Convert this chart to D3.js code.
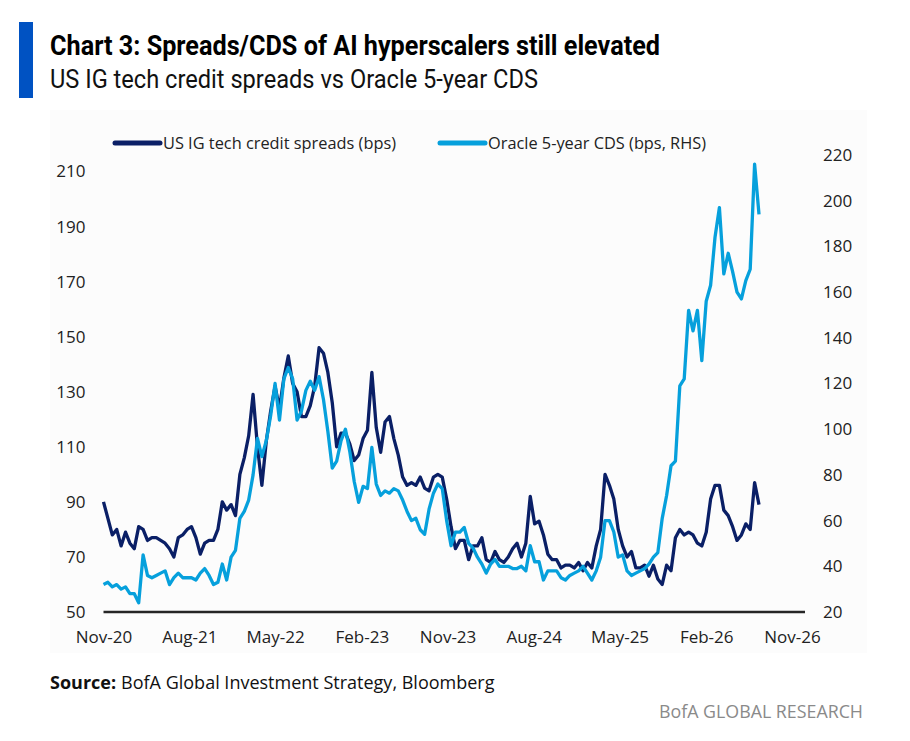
<!DOCTYPE html>
<html><head><meta charset="utf-8">
<script src="https://cdn.jsdelivr.net/npm/d3@7/dist/d3.min.js"></script>
<style>body{margin:0;background:#fff;} svg{display:block;}</style>
</head><body>
<svg id="chart" width="910" height="741"></svg>
<script>
// ---------- DATA ----------
const startDate = "2020-11-01";   // first observation
const stepDays = 14;               // observations sampled every two weeks
const igSpreads = [
  90,84,78,80,74,79,75,73,81,80, 76,77,77,76,75,73,70,77,78,80,
  81,77,71,75,76,76,80,90,87,89, 85,100,106,114,129,110,96,112,123,132,
  124,135,143,133,130,121,121,125,132,146, 144,137,126,110,115,115,111,105,107,113,
  116,137,117,108,119,121,113,107,99,96, 97,96,99,95,94,99,100,99,91,81,
  73,76,76,69,74,74,77,69,68,72, 69,68,70,73,75,70,75,92,82,83,
  78,71,69,69,66,67,67,66,68,65, 68,66,74,80,100,96,91,80,74,70,
  72,66,66,67,63,67,62,60,67,65, 77,80,78,79,78,75,74,79,91,96,
  96,87,85,81,76,78,82,80,97,89
];
const oracleCDS = [
  32,33,31,32,30,31,28,28,24,45, 36,35,36,37,38,32,35,37,35,35,
  35,34,37,39,36,32,33,41,34,44, 47,61,64,69,80,96,88,95,106,120,
  104,122,127,122,104,108,117,121,117,123, 113,99,83,86,95,100,90,77,68,75,
  74,92,76,71,73,72,74,73,69,64, 60,61,56,54,65,72,76,74,60,49,
  55,55,57,50,48,44,41,37,41,43, 40,40,40,39,39,40,38,49,42,42,
  34,38,38,38,35,34,36,37,38,40, 37,34,38,44,60,60,55,44,45,38,
  36,37,38,39,41,44,46,61,71,84, 86,119,122,152,143,152,130,156,163,184,
  197,168,177,169,160,157,165,170,216,194
];
const xTickLabels = ["Nov-20","Aug-21","May-22","Feb-23","Nov-23","Aug-24","May-25","Feb-26","Nov-26"];
const leftTicks = [50,70,90,110,130,150,170,190,210];
const rightTicks = [20,40,60,80,100,120,140,160,180,200,220];
const seriesNames = ["US IG tech credit spreads (bps)","Oracle 5-year CDS (bps, RHS)"];
const seriesColors = ["#0a1f66","#06a0dc"];
const titleText = "Chart 3: Spreads/CDS of AI hyperscalers still elevated";
const subtitleText = "US IG tech credit spreads vs Oracle 5-year CDS";
const sourceLabel = "Source:";
const sourceText = "BofA Global Investment Strategy, Bloomberg";
const brandText = "BofA GLOBAL RESEARCH";

// ---------- LAYOUT ----------
const svg = d3.select("#chart");
const font = "'Open Sans','Noto Sans',sans-serif";
const narrow = "'Liberation Sans Narrow','Roboto','Open Sans',sans-serif";
const plotLeft = 103.5, plotRight = 805, plotBottom = 612;

svg.append("rect").attr("x",0).attr("y",0).attr("width",910).attr("height",741).attr("fill","#fff");
svg.append("rect").attr("x",50).attr("y",110).attr("width",817).attr("height",543).attr("fill","#fcfcfc");

// title block
svg.append("rect").attr("x",19).attr("y",22).attr("width",14).attr("height",76).attr("fill","#0052c2");
svg.append("text").attr("x",50).attr("y",55).text(titleText)
  .attr("font-family",narrow).attr("font-weight",700).attr("font-size",28).attr("fill","#000")
  .attr("textLength",610).attr("lengthAdjust","spacingAndGlyphs");
svg.append("text").attr("x",50).attr("y",88).text(subtitleText)
  .attr("font-family",narrow).attr("font-weight",400).attr("font-size",25).attr("fill","#111")
  .attr("textLength",488).attr("lengthAdjust","spacingAndGlyphs");

// scales
const parse = d3.timeParse("%Y-%m-%d");
const parseTick = d3.timeParse("%b-%y");
const t0 = parse(startDate);
const dates = igSpreads.map((_, i) => d3.timeDay.offset(t0, i * stepDays));
const tickDates = xTickLabels.map(s => parseTick(s));
const x = d3.scaleTime().domain([tickDates[0], tickDates[tickDates.length-1]]).range([plotLeft, 792]);
const yL = d3.scaleLinear().domain([50,210]).range([plotBottom,171.5]);
const yR = d3.scaleLinear().domain([20,220]).range([plotBottom,155]);

// axes
const tickFont = g => g.selectAll("text").attr("font-family",font).attr("font-size",17).attr("fill","#222");
const gL = svg.append("g").attr("transform",`translate(${plotLeft},0)`)
  .call(d3.axisLeft(yL).tickValues(leftTicks).tickSize(0).tickPadding(18).tickFormat(d3.format("d")));
gL.select(".domain").remove(); tickFont(gL);
const gR = svg.append("g").attr("transform",`translate(${plotRight},0)`)
  .call(d3.axisRight(yR).tickValues(rightTicks).tickSize(0).tickPadding(18).tickFormat(d3.format("d")));
gR.select(".domain").remove(); tickFont(gR);
const gB = svg.append("g").attr("transform",`translate(0,${plotBottom})`)
  .call(d3.axisBottom(x).tickValues(tickDates).tickSize(0).tickPadding(19).tickFormat(d3.timeFormat("%b-%y")));
gB.select(".domain").remove(); tickFont(gB);

// lines
const lineL = d3.line().x((d,i)=>x(dates[i])).y(d=>yL(d));
const lineR = d3.line().x((d,i)=>x(dates[i])).y(d=>yR(d));
svg.append("path").datum(igSpreads).attr("d",lineL).attr("fill","none")
  .attr("stroke",seriesColors[0]).attr("stroke-width",3.3).attr("stroke-linejoin","round");
svg.append("path").datum(oracleCDS).attr("d",lineR).attr("fill","none")
  .attr("stroke",seriesColors[1]).attr("stroke-width",3.3).attr("stroke-linejoin","round");

// baseline
svg.append("line").attr("x1",plotLeft).attr("x2",plotRight).attr("y1",plotBottom).attr("y2",plotBottom)
  .attr("stroke","#262626").attr("stroke-width",2.5);

// legend
const legendItems = [
  {x1:115, x2:160, tx:163, tl:233},
  {x1:440, x2:485, tx:488, tl:218}
];
legendItems.forEach((p,i)=>{
  svg.append("line").attr("x1",p.x1).attr("x2",p.x2).attr("y1",143).attr("y2",143)
    .attr("stroke",seriesColors[i]).attr("stroke-width",5).attr("stroke-linecap","round");
  svg.append("text").attr("x",p.tx).attr("y",149).text(seriesNames[i])
    .attr("font-family",font).attr("font-size",17).attr("fill","#222")
    .attr("textLength",p.tl).attr("lengthAdjust","spacingAndGlyphs");
});

// source + brand
const src = svg.append("text").attr("x",50).attr("y",689).attr("font-family",font).attr("font-size",18).attr("fill","#111");
src.append("tspan").attr("font-weight",700).text(sourceLabel);
src.append("tspan").attr("dx",5).text(sourceText);
svg.append("text").attr("x",863).attr("y",718).attr("text-anchor","end").text(brandText)
  .attr("font-family",font).attr("font-size",19).attr("fill","#8a8a8a")
  .attr("textLength",204).attr("lengthAdjust","spacingAndGlyphs");
</script>
</body></html>
